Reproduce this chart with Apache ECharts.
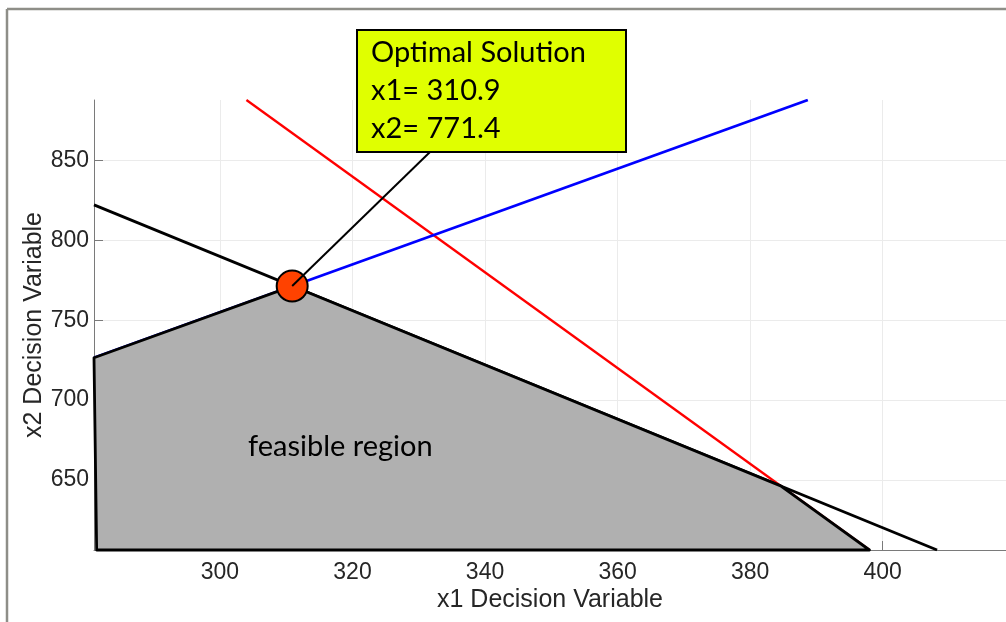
<!DOCTYPE html>
<html>
<head>
<meta charset="utf-8">
<script src="https://cdn.jsdelivr.net/npm/echarts@6/dist/echarts.min.js"></script>
<style>
html,body{margin:0;padding:0;background:#fff;}
#chart{width:1006px;height:622px;}
</style>
</head>
<body>
<div id="chart"></div>
<script>
// ---- data ----
const xTicks = [300, 320, 340, 360, 380, 400];
const yTicks = [650, 700, 750, 800, 850];
const xRange = [281, 418.6];
const yRange = [606, 888];
// constraint lines (endpoints)
const redLine = [[304, 888], [398, 606]];        // 3 x1 + x2 = 1800
const blueLine = [[281, 726.5], [388.7, 888]];   // x2 = 1.5 x1 + 305
const blackLine = [[281, 822.3], [408.2, 606]];  // 1.7 x1 + x2 = 1300
// feasible region vertices
const feasibleX1 = [281, 310.9, 384.6, 398, 281.4];
const feasibleX2 = [726.5, 771.4, 646.2, 606, 606];
// optimum
const optimal = [310.9, 771.4];
const annotationLines = ['Optimal Solution', 'x1= 310.9', 'x2= 771.4'];

const chart = echarts.init(document.getElementById('chart'), null, {renderer: 'canvas'});
const labelColor = '#262626';
const axisGray = '#7a7a7a';
const gridGray = '#ebebeb';

const option = {
  animation: false,
  backgroundColor: '#ffffff',
  grid: {left: 94, right: 0, top: 100, bottom: 72, containLabel: false},
  xAxis: {
    type: 'value', min: xRange[0], max: xRange[1],
    name: 'x1 Decision Variable', nameLocation: 'middle', nameGap: 38, nameMoveOverlap: false,
    nameTextStyle: {fontFamily: 'Liberation Sans', fontSize: 25, color: labelColor},
    axisLine: {show: true, lineStyle: {color: axisGray, width: 1}},
    axisTick: {show: true, inside: true, length: 9, customValues: xTicks, lineStyle: {color: axisGray}},
    axisLabel: {customValues: xTicks, fontFamily: 'Liberation Sans', fontSize: 23, color: labelColor, margin: 11},
    splitLine: {show: true, lineStyle: {color: gridGray, width: 1}}
  },
  yAxis: {
    type: 'value', min: yRange[0], max: yRange[1],
    name: 'x2 Decision Variable', nameLocation: 'middle', nameGap: 47, nameMoveOverlap: false,
    nameTextStyle: {fontFamily: 'Liberation Sans', fontSize: 25, color: labelColor},
    axisLine: {show: true, lineStyle: {color: axisGray, width: 1}},
    axisTick: {show: true, inside: true, length: 9, customValues: yTicks, lineStyle: {color: axisGray}},
    axisLabel: {customValues: yTicks, fontFamily: 'Liberation Sans', fontSize: 23, color: labelColor, margin: 5},
    splitLine: {show: true, lineStyle: {color: gridGray, width: 1}}
  },
  series: [
    {type: 'line', data: redLine, symbol: 'none', z: 2, lineStyle: {color: '#ff0000', width: 2.3}},
    {type: 'line', data: blueLine, symbol: 'none', z: 2, lineStyle: {color: '#0000ff', width: 2.8}},
    {type: 'line', data: blackLine, symbol: 'none', z: 2, lineStyle: {color: '#000000', width: 2.8}},
    {
      type: 'custom', z: 3, clip: false,
      data: [[feasibleX1[0], feasibleX2[0]]],
      renderItem: function (params, api) {
        return {
          type: 'polygon',
          shape: {points: feasibleX1.map((x, i) => api.coord([x, feasibleX2[i]]))},
          style: {fill: '#b0b0b0', stroke: '#000000', lineWidth: 2.8, lineJoin: 'round'}
        };
      }
    },
    {
      type: 'scatter', z: 4, data: [optimal], symbol: 'circle', symbolSize: 31,
      itemStyle: {color: '#ff4200', borderColor: '#000000', borderWidth: 2, opacity: 1}
    },
    {
      type: 'custom', z: 5, clip: false,
      data: [optimal],
      renderItem: function (params, api) {
        const p = api.coord([api.value(0), api.value(1)]);
        return {
          type: 'line',
          shape: {x1: p[0], y1: p[1], x2: 430, y2: 152},
          style: {stroke: '#000000', lineWidth: 2}
        };
      }
    }
  ],
  graphic: [
    // figure window frame
    {type: 'line', shape: {x1: 7, y1: 9, x2: 1006, y2: 9}, style: {stroke: '#8e8e88', lineWidth: 2.5}, z: 10},
    {type: 'line', shape: {x1: 7, y1: 9, x2: 7, y2: 622}, style: {stroke: '#8e8e88', lineWidth: 2.5}, z: 10},
    {
      type: 'text', x: 248, y: 447, z: 10,
      style: {text: 'feasible region', fontFamily: 'Lato', fontSize: 29, fill: '#000000', verticalAlign: 'middle', align: 'left'}
    },
    {
      type: 'rect', z: 20,
      shape: {x: 357, y: 30, width: 269, height: 122},
      style: {fill: '#e0ff00', stroke: '#000000', lineWidth: 2}
    },
    {
      type: 'text', x: 371, y: 34, z: 21,
      style: {text: annotationLines.join('\n'), fontFamily: 'Lato', fontSize: 29, lineHeight: 38, fill: '#000000', align: 'left', verticalAlign: 'top'}
    }
  ]
};
chart.setOption(option);
</script>
</body>
</html>
